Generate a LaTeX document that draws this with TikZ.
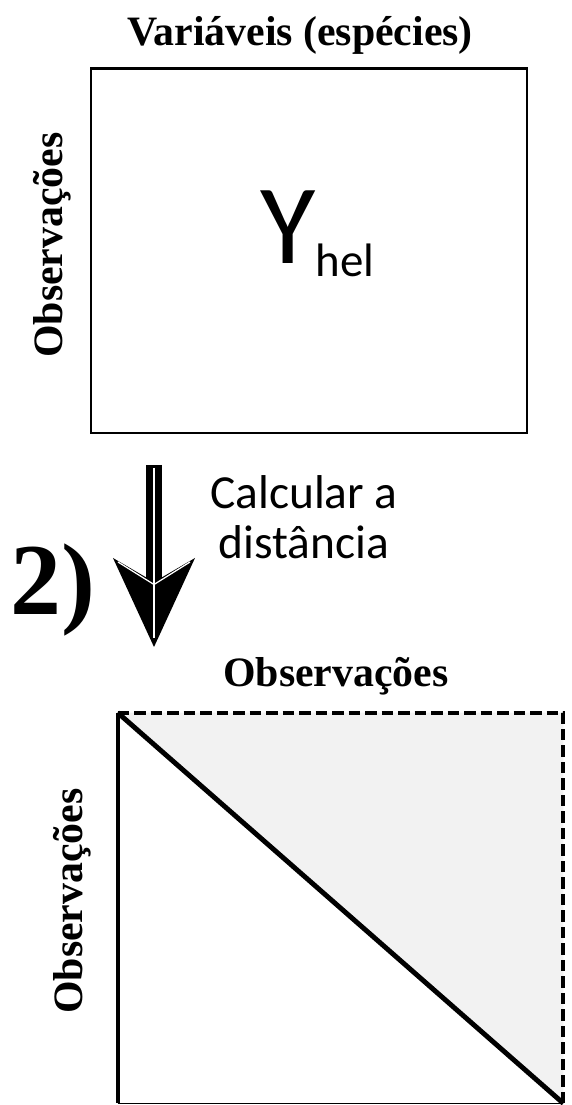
\documentclass[tikz,border=0pt]{standalone}
\usepackage{fontspec}
\setmainfont{Liberation Serif}
\newfontfamily\calibrifont{Carlito}
\usepackage{xcolor}
\usetikzlibrary{arrows.meta}
\definecolor{matrixink}{HTML}{000000}
\definecolor{upperfill}{HTML}{F2F2F2}

\begin{document}
\begin{tikzpicture}[
  text=matrixink,
  line join=miter,
  axislabel/.style={
    font=\fontsize{23.8}{28}\selectfont\bfseries,
    inner sep=0pt
  },
  sidelabel/.style={
    axislabel,
    rotate=90,
    anchor=base
  },
  sanslabel/.style={
    font=\calibrifont\fontsize{27}{28.5}\selectfont,
    align=center,
    inner sep=0pt
  },
  bigarrow/.style={
    -{Stealth[length=1.78cm,width=1.64cm,inset=0.48cm,line width=0pt]},
    line width=0.32cm,
    draw=matrixink
  },
  dashedge/.style={
    draw=matrixink,
    line width=4pt*0.5669,
    dash pattern=on 0.23cm off 0.10cm
  }
]
\useasboundingbox (0,0) rectangle (11.42,22.10);

% ------------------------------------------------------------
% Species matrix
% ------------------------------------------------------------

\node[axislabel,anchor=base] (vartitle) at (6.00,21.19)
  {Variáveis (espécies)};

\node[
  draw=matrixink,
  line width=1.7pt,
  minimum width=8.72cm,
  minimum height=7.28cm,
  inner sep=0pt
] (ymat) at (6.18,17.08) {};

\node[sidelabel] (yobs) at (1.24,17.20) {Observações};

\node[anchor=base west,inner sep=0pt,
      font=\calibrifont\fontsize{64.5}{64.5}\selectfont] (yhel)
  at (5.20,16.82)
  {Y\raisebox{-7.4pt}{\fontsize{26.7}{26.7}\selectfont hel}};

% ------------------------------------------------------------
% Step 2: distance
% ------------------------------------------------------------

\coordinate (arrtop) at (3.08,12.80);
\coordinate (arrtip) at (3.08,9.16);
\coordinate (arrnotch) at (3.08,10.46);

\draw[bigarrow] (arrtop) -- (arrtip);

% highlights on the arrow
\draw[white,line width=0.7pt]
  ([yshift=-0.06cm]arrtop) -- ([yshift=0.18cm]arrtip);
\draw[white,line width=0.7pt]
  ([yshift=-0.05cm]arrnotch) -- (2.36,10.86);
\draw[white,line width=0.7pt]
  ([yshift=-0.05cm]arrnotch) -- (3.80,10.86);

\node[sanslabel] (distlabel) at (6.08,11.76)
  {Calcular a\\distância};

\node[anchor=base west,inner sep=0pt,
      font=\fontsize{58}{58}\selectfont\bfseries] (steptwo)
  at (0.20,9.80) {2)};

% ------------------------------------------------------------
% Distance matrix
% ------------------------------------------------------------

\node[axislabel,anchor=base] (obstitle) at (6.72,8.36)
  {Observações};

\node[
  minimum width=8.90cm,
  minimum height=7.80cm,
  inner sep=0pt
] (dmat) at (6.81,3.94) {};

\fill[upperfill]
  (dmat.north west) -- (dmat.north east) -- (dmat.south east) -- cycle;

\draw[dashedge]
  (dmat.north west) -- (dmat.north east) -- (dmat.south east);

\draw[draw=matrixink,line width=0.9pt]
  (dmat.south west) -- (dmat.south east);

\draw[draw=matrixink,line width=2.3pt]
  (dmat.north west) -- (dmat.south west);

\draw[draw=matrixink,line width=2.8pt]
  (dmat.north west) -- (dmat.south east);

\node[sidelabel] (dobs) at (1.64,4.08) {Observações};
\end{tikzpicture}
\end{document}
